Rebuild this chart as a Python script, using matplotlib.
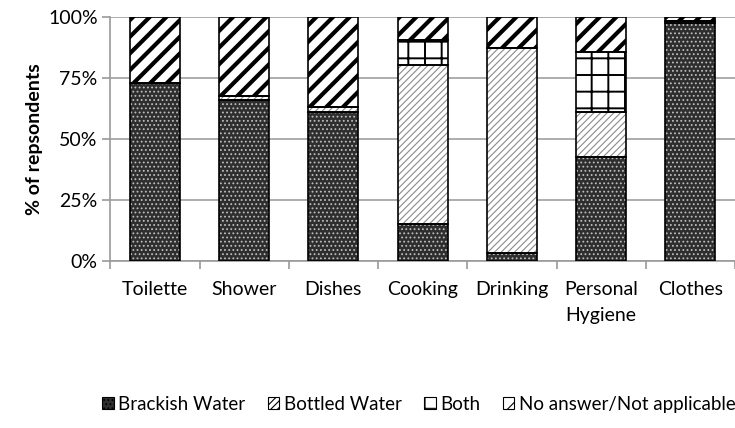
import numpy as np
import matplotlib
matplotlib.use("Agg")
import matplotlib.pyplot as plt
import matplotlib.ticker as ticker
from matplotlib.patches import Patch

categories = ["Toilette", "Shower", "Dishes", "Cooking", "Drinking", "Personal\nHygiene", "Clothes"]
brackish = [73, 66, 61, 15, 3.5, 42.5, 97.5]
bottled = [0, 1.5, 2, 65.5, 84, 18.5, 1]
both = [0, 0, 0, 10, 0, 24.5, 0]
no_answer = [27, 32.5, 37, 9.5, 12.5, 14.5, 1.5]

series_names = ["Brackish Water", "Bottled Water", "Both", "No answer/Not applicable"]

plt.rcParams['font.family'] = ['Lato', 'DejaVu Sans']

# face, hatch, hatch colour, hatch width
styles = [
    ("#2e2e2e", "....", "#bdbdbd", 0.8),
    ("white", "/////", "#8a8a8a", 0.8),
    ("white", "+", "black", 1.4),
    ("white", "//", "black", 3.0),
]

fig = plt.figure(figsize=(7.35, 4.28), dpi=100)
ax = fig.add_axes([0.15, 0.39, 0.85, 0.57])

x = np.arange(len(categories))
width = 0.56
bottom = np.zeros(len(categories))
handles = []
for vals, name, (fc, hatch, hc, hlw) in zip([brackish, bottled, both, no_answer], series_names, styles):
    vals = np.array(vals, dtype=float)
    with plt.rc_context({'hatch.linewidth': hlw}):
        bars = ax.bar(x, vals, width, bottom=bottom, color=fc, hatch=hatch,
                      edgecolor=hc, linewidth=0, zorder=3)
        for b in bars:
            if hasattr(b, "set_hatch_linewidth"):
                b.set_hatch_linewidth(hlw)
    ax.bar(x, vals, width, bottom=bottom, fill=False, edgecolor="black",
           linewidth=1.2, zorder=4)
    bottom += vals
    handles.append(Patch(facecolor=fc, hatch=hatch, edgecolor="black", linewidth=0.8, label=name))

ax.set_xlim(-0.5, len(categories) - 0.5)
ax.set_ylim(0, 100)
ax.yaxis.set_major_locator(ticker.MultipleLocator(25))
ax.yaxis.set_major_formatter(ticker.FuncFormatter(lambda v, p: f"{int(v)}%"))
ax.set_xticks(x)
ax.set_xticklabels(categories, fontsize=14, linespacing=1.7)
ax.set_xticks(np.arange(-0.5, len(categories)), minor=True)
ax.tick_params(axis='x', which='major', length=0, pad=14)
ax.tick_params(axis='x', which='minor', length=6, color="#9a9a9a", width=1.2)
ax.tick_params(axis='y', length=6, color="#9a9a9a", width=1.2, labelsize=14, pad=3)

ax.grid(axis='y', color="#a0a0a0", linewidth=1.2, zorder=0)
for s in ["top", "right"]:
    ax.spines[s].set_visible(False)
for s in ["left", "bottom"]:
    ax.spines[s].set_color("#9a9a9a")
    ax.spines[s].set_linewidth(1.2)

ax.set_ylabel("% of repsondents", fontsize=14, fontweight="bold", labelpad=4)

with plt.rc_context({'hatch.linewidth': 0.8}):
    fig.legend(handles=handles, loc="center", bbox_to_anchor=(0.57, 0.055), ncol=4,
               frameon=False, fontsize=13.5, handlelength=0.6, handleheight=0.6,
               handletextpad=0.25, columnspacing=1.2)

fig.savefig("out.png", dpi=100)
